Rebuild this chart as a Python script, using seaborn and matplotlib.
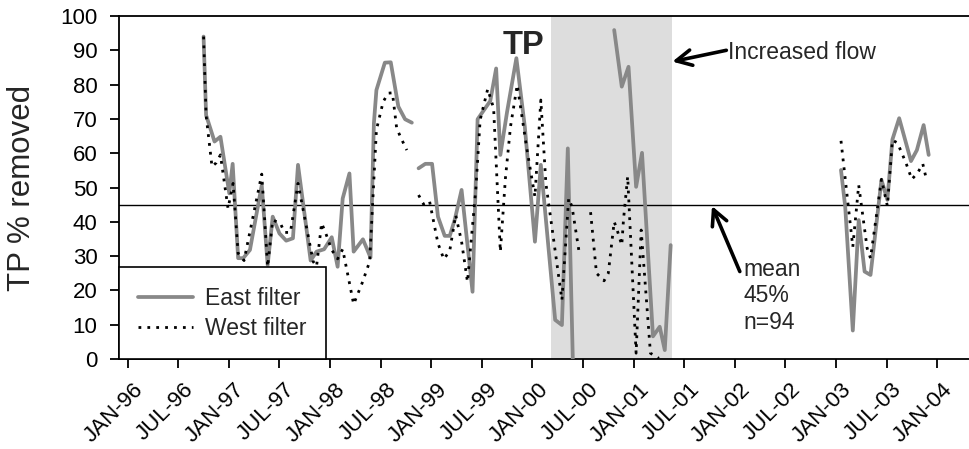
import numpy as np
import pandas as pd
import matplotlib
matplotlib.use("Agg")
import matplotlib.pyplot as plt
import matplotlib.transforms as mtransforms
from matplotlib.lines import Line2D
import seaborn as sns

# ---------------- data (x = months since JAN-96) ----------------
nan = np.nan
east_month = [9.0, 9.3, 10.3, 11.0, 12.05, 12.45, 13.1, 13.7, 14.5, 15.9, 16.6, 17.2, 18.0, 18.8,
              19.6, 20.2, 21.7, 22.4, 23.3, 24.2, 24.9, 25.5, 26.3, 26.8, 27.9, 28.8, 29.2, 29.5,
              30.5, 31.2, 32.1, 32.9, 33.7, nan,
              34.5, 35.3, 36.1, 36.8, 37.6, 38.2, 38.8, 39.6, 40.9, 41.5, 42.4, 43.0, 43.7, 44.2,
              45.0, 46.1, 47.1, 48.3, 49.0, 50.7, 51.5, 52.2, 52.8, nan,
              57.7, 58.6, 59.4, 60.3, 61.0, 62.3, 63.1, 63.7, 64.4, nan,
              84.6, 85.1, 86.0, 86.7, 87.4, 88.1, 89.4, 90.1, 90.7, 91.5, 92.9, 93.6, 94.4, 95.0]
east_value = [94.0, 71.1, 63.4, 64.8, 48.3, 56.9, 29.4, 29.4, 31.8, 50.7, 27.4, 41.5, 36.6, 34.5,
              35.2, 56.6, 28.7, 31.3, 32.0, 35.5, 26.9, 46.8, 54.1, 31.3, 34.9, 29.6, 68.7, 78.4,
              86.4, 86.5, 73.6, 69.9, 68.9, nan,
              55.6, 56.9, 56.9, 41.5, 35.9, 35.9, 40.7, 49.3, 19.6, 69.9, 73.1, 75.2, 84.7, 59.5,
              72.1, 87.7, 67.7, 34.2, 56.6, 11.4, 9.9, 61.4, -1.0, nan,
              95.9, 79.4, 85.2, 50.2, 60.1, 6.6, 9.4, 2.6, 33.2, nan,
              55.1, 44.4, 8.3, 40.5, 25.5, 24.5, 52.2, 46.4, 64.0, 70.2, 57.7, 60.9, 68.2, 59.5]

west_month = [9.0, 9.3, 10.0, 10.5, 11.0, 11.9, 12.5, 13.1, 13.8, 15.9, 16.6, 17.2, 18.1, 18.6,
              19.3, 20.2, 22.0, 22.4, 23.0, 23.5, 24.2, 24.9, 25.5, 26.8, 27.8, 28.7, 29.5, 30.3,
              30.9, 31.4, 31.9, 32.4, 33.1, nan,
              34.5, 35.1, 35.8, 36.8, 37.5, 38.2, 38.9, 39.6, 40.3, 41.3, 41.8, 42.7, 43.4, 44.2,
              44.8, 45.4, 46.2, 47.3, 48.3, 49.0, 49.6, 51.5, 52.3, 52.7, 53.5, nan,
              54.9, 55.6, 56.5, 57.0, 57.7, 58.0, 58.6, 58.8, 59.3, 60.3, 60.9, 62.0, 63.0, nan,
              84.6, 86.0, 86.7, 87.7, 88.1, 89.4, 90.1, 90.7, 91.3, 92.3, 93.0, 93.7, 94.3, 94.7]
west_value = [94.0, 71.0, 56.1, 57.2, 59.5, 43.9, 51.2, 30.8, 28.7, 53.9, 26.9, 40.5, 39.6, 36.9,
              36.9, 51.2, 28.4, 27.0, 39.6, 36.6, 31.8, 29.2, 32.0, 16.0, 22.1, 28.4, 66.8, 75.0,
              77.5, 77.6, 67.3, 64.5, 60.9, nan,
              47.8, 45.1, 46.0, 33.7, 29.1, 31.6, 42.0, 34.2, 22.5, 49.8, 69.7, 78.7, 73.1, 31.3,
              52.7, 67.7, 79.9, 61.9, 47.3, 75.5, 51.2, 17.2, 46.8, 44.4, 31.8, nan,
              42.8, 25.0, 22.8, 25.0, 40.0, 38.0, 33.2, 40.5, 53.2, 1.7, 37.6, 1.7, 0.2, nan,
              63.6, 32.7, 50.7, 32.3, 29.4, 52.4, 44.6, 63.8, 63.0, 57.2, 52.4, 54.3, 56.9, 52.7]

tick_months = [0, 6, 12, 18, 24, 30, 36, 42, 48, 54, 60, 66, 72, 78, 84, 90, 96]
tick_labels = ["JAN-96", "JUL-96", "JAN-97", "JUL-97", "JAN-98", "JUL-98", "JAN-99", "JUL-99",
               "JAN-00", "JUL-00", "JAN-01", "JUL-01", "JAN-02", "JUL-02", "JAN-03", "JUL-03",
               "JAN-04"]
mean_value = 45
shade_start, shade_end = 50.2, 64.6


def to_frame(months, values):
    m = np.array(months, dtype=float)
    v = np.array(values, dtype=float)
    seg = np.cumsum(np.isnan(m))
    df = pd.DataFrame({"month": m, "value": v, "seg": seg})
    return df.dropna().reset_index(drop=True)


east = to_frame(east_month, east_value)
west = to_frame(west_month, west_value)

# ---------------- style ----------------
sns.set_style("ticks")
plt.rcParams["font.family"] = ["Liberation Sans", "DejaVu Sans"]
plt.rcParams["axes.linewidth"] = 1.3

fig = plt.figure(figsize=(9.7, 4.49), dpi=100)
ax = fig.add_axes([119 / 970, 90 / 449, 1 - 119 / 970, 343 / 449])

ax.axvspan(shade_start, shade_end, color="#dddddd", lw=0, zorder=0)
ax.axhline(mean_value, color="black", lw=1.0, zorder=1)

sns.lineplot(data=east, x="month", y="value", units="seg", estimator=None,
             color="#888888", lw=2.7, ax=ax, zorder=3, legend=False)
sns.lineplot(data=west, x="month", y="value", units="seg", estimator=None,
             color="black", lw=2.0, ax=ax, zorder=4, legend=False)
for line in ax.get_lines()[-len(west["seg"].unique()):]:
    line.set_dashes((1, 2.2))

ax.set_xlim(-1.03, 99.9)
ax.set_ylim(0, 100)
ax.set_yticks(range(0, 101, 10))
ax.set_xticks(tick_months)
ax.set_xticklabels(tick_labels, rotation=45, ha="right", va="top", rotation_mode="anchor")
ax.tick_params(axis="both", direction="out", length=6.5, width=1.3, colors="black")
ax.tick_params(axis="y", pad=9, labelsize=16)
ax.tick_params(axis="x", pad=8, labelsize=16)
offset = mtransforms.ScaledTranslation(5 / 100, 0, fig.dpi_scale_trans)
for lab in ax.get_xticklabels():
    lab.set_transform(lab.get_transform() + offset)
ax.set_xlabel("")
ax.set_ylabel("TP % removed", fontsize=22.5)
ax.yaxis.set_label_coords(-0.0964, 0.5)
ax.spines["right"].set_visible(False)
for s in ["left", "bottom", "top"]:
    ax.spines[s].set_color("black")

# annotations
arrow_kw = dict(arrowstyle="->,head_length=0.55,head_width=0.28", color="black",
                lw=2.6, shrinkA=0, shrinkB=0, mutation_scale=20)
ax.text(44.5, 88.8, "TP", fontsize=23.5, fontweight="bold", ha="left", va="baseline")
ax.text(71.2, 87.4, "Increased flow", fontsize=16.5, ha="left", va="baseline")
ax.annotate("", xy=(64.6, 86.7), xytext=(71.0, 90.0), arrowprops=arrow_kw)
ax.text(73.0, 8.75, "mean\n45%\nn=94", fontsize=16.5, ha="left", va="baseline")
ax.annotate("", xy=(69.3, 44.6), xytext=(72.6, 25.5), arrowprops=arrow_kw)

handles = [Line2D([], [], color="#888888", lw=2.7),
           Line2D([], [], color="black", lw=2.0, dashes=(1, 2.2))]
leg = ax.legend(handles, ["East filter", "West filter"], loc="lower left",
                bbox_to_anchor=(0, 0), borderaxespad=0, fontsize=16.5, frameon=True,
                fancybox=False, edgecolor="black", framealpha=1, handlelength=2.4,
                handletextpad=0.5, borderpad=0.85, labelspacing=0.3)
leg.get_frame().set_linewidth(1.2)
leg.set_zorder(10)

fig.savefig("out.png", dpi=100)
